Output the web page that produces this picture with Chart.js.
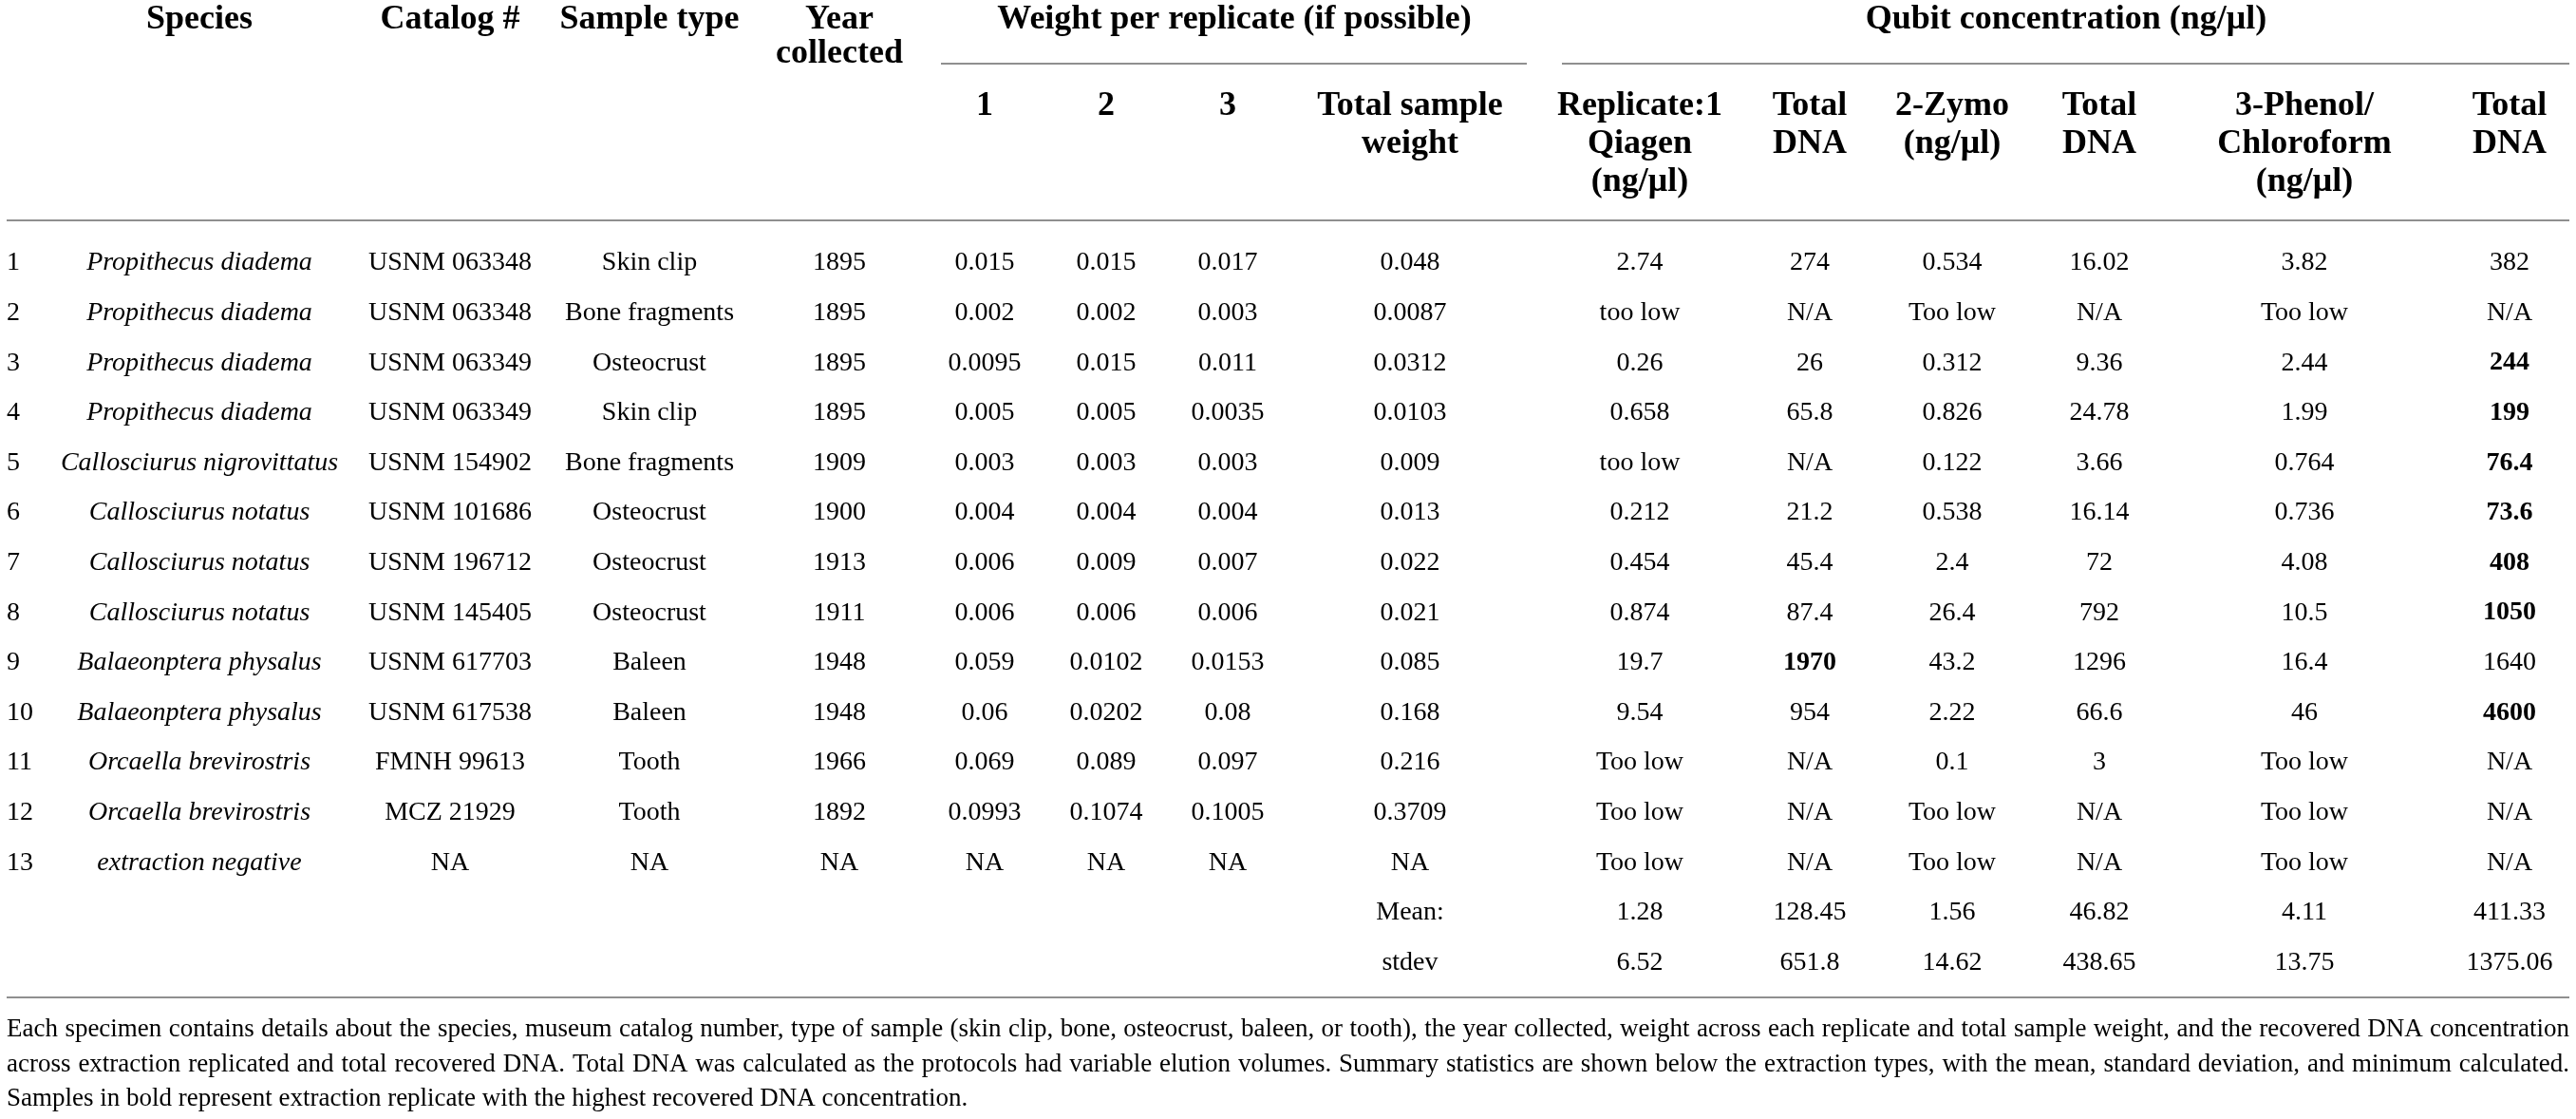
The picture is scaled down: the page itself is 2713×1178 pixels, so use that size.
<!DOCTYPE html>
<html>
<head>
<meta charset="utf-8">
<script src="https://cdn.jsdelivr.net/npm/chart.js@4.4.1/dist/chart.umd.min.js"></script>
<style>
html,body{margin:0;padding:0;background:#fff;overflow:hidden}
#wrap{width:2713px;height:1178px;position:relative}
</style>
</head>
<body>
<div id="wrap"><canvas id="c" width="2713" height="1178"></canvas></div>
<script>
// ---------------- DATA ----------------
const rowNumbers = ['1','2','3','4','5','6','7','8','9','10','11','12','13'];
const species = ['Propithecus diadema','Propithecus diadema','Propithecus diadema','Propithecus diadema','Callosciurus nigrovittatus','Callosciurus notatus','Callosciurus notatus','Callosciurus notatus','Balaeonptera physalus','Balaeonptera physalus','Orcaella brevirostris','Orcaella brevirostris','extraction negative'];
const catalogNumbers = ['USNM 063348','USNM 063348','USNM 063349','USNM 063349','USNM 154902','USNM 101686','USNM 196712','USNM 145405','USNM 617703','USNM 617538','FMNH 99613','MCZ 21929','NA'];
const sampleTypes = ['Skin clip','Bone fragments','Osteocrust','Skin clip','Bone fragments','Osteocrust','Osteocrust','Osteocrust','Baleen','Baleen','Tooth','Tooth','NA'];
const yearsCollected = ['1895','1895','1895','1895','1909','1900','1913','1911','1948','1948','1966','1892','NA'];
const weight1 = ['0.015','0.002','0.0095','0.005','0.003','0.004','0.006','0.006','0.059','0.06','0.069','0.0993','NA'];
const weight2 = ['0.015','0.002','0.015','0.005','0.003','0.004','0.009','0.006','0.0102','0.0202','0.089','0.1074','NA'];
const weight3 = ['0.017','0.003','0.011','0.0035','0.003','0.004','0.007','0.006','0.0153','0.08','0.097','0.1005','NA'];
const totalWeight = ['0.048','0.0087','0.0312','0.0103','0.009','0.013','0.022','0.021','0.085','0.168','0.216','0.3709','NA'];
const qiagen = ['2.74','too low','0.26','0.658','too low','0.212','0.454','0.874','19.7','9.54','Too low','Too low','Too low'];
const totalDNA1 = ['274','N/A','26','65.8','N/A','21.2','45.4','87.4','1970','954','N/A','N/A','N/A'];
const zymo = ['0.534','Too low','0.312','0.826','0.122','0.538','2.4','26.4','43.2','2.22','0.1','Too low','Too low'];
const totalDNA2 = ['16.02','N/A','9.36','24.78','3.66','16.14','72','792','1296','66.6','3','N/A','N/A'];
const phenol = ['3.82','Too low','2.44','1.99','0.764','0.736','4.08','10.5','16.4','46','Too low','Too low','Too low'];
const totalDNA3 = ['382','N/A','244','199','76.4','73.6','408','1050','1640','4600','N/A','N/A','N/A'];
// bold cells: [column key, row number]
const boldCells = [['dna3',3],['dna3',4],['dna3',5],['dna3',6],['dna3',7],['dna3',8],['dna1',9],['dna3',10]];
const summaryLabels = ['Mean:','stdev'];
const meanValues = ['1.28','128.45','1.56','46.82','4.11','411.33'];
const stdevValues = ['6.52','651.8','14.62','438.65','13.75','1375.06'];

const groupHeaders = ['Weight per replicate (if possible)','Qubit concentration (ng/μl)'];
const columnHeaders = [
  [], ['Species'], ['Catalog #'], ['Sample type'], ['Year','collected'],
  ['1'], ['2'], ['3'], ['Total sample','weight'],
  ['Replicate:1','Qiagen','(ng/μl)'], ['Total','DNA'], ['2-Zymo','(ng/μl)'], ['Total','DNA'],
  ['3-Phenol/','Chloroform','(ng/μl)'], ['Total','DNA']
];
const footnoteLines = [
  'Each specimen contains details about the species, museum catalog number, type of sample (skin clip, bone, osteocrust, baleen, or tooth), the year collected, weight across each replicate and total sample weight, and the recovered DNA concentration',
  'across extraction replicated and total recovered DNA. Total DNA was calculated as the protocols had variable elution volumes. Summary statistics are shown below the extraction types, with the mean, standard deviation, and minimum calculated.',
  'Samples in bold represent extraction replicate with the highest recovered DNA concentration.'
];

// ---------------- LAYOUT ----------------
const columnKeys = ['no','species','catalog','sample','year','w1','w2','w3','wt','qiagen','dna1','zymo','dna2','phenol','dna3'];
const columnValues = [rowNumbers,species,catalogNumbers,sampleTypes,yearsCollected,weight1,weight2,weight3,totalWeight,qiagen,totalDNA1,zymo,totalDNA2,phenol,totalDNA3];
const colCenters = [7,210,474,684,884,1037,1165,1293,1485,1727,1906,2056,2211,2427,2643];
const FONT = '"Liberation Serif", "Times New Roman", serif';
const W = 2713, H = 1178;
const ROW_Y0 = 277, ROW_STEP = 52.6;
const HEAD_TOP_Y = 21, HEAD_LINE = 36, SUB_Y = 112, SUB_LINE = 40;
const groupLayout = [[1300, 991, 1608],[2176, 1645, 2706]]; // center, rule from, rule to
const GROUP_RULE_Y = 67, HEAD_RULE_Y = 232, BOTTOM_RULE_Y = 1050, TABLE_LEFT = 7, TABLE_RIGHT = 2706;
const FOOT_Y0 = 1084, FOOT_STEP = 36.5;
const JUSTIFIED = [true, true, false];
const RULE_COLOR = '#8f8f8f';

// ---------------- DATASETS ----------------
const isBold = (key,row) => boldCells.some(b => b[0]===key && b[1]===row);
const datasets = columnKeys.map((key, ci) => ({
  label: key,
  data: columnValues[ci].map((v, i) => ({x: colCenters[ci], y: ROW_Y0 + i*ROW_STEP, text: v, bold: isBold(key, i+1)})),
  pointRadius: 0, showLine: false,
  cellStyle: key==='species' ? 'italic' : 'normal',
  align: key==='no' ? 'left' : 'center'
}));
const summaryCols = ['qiagen','dna1','zymo','dna2','phenol','dna3'];
[meanValues, stdevValues].forEach((vals, si) => {
  datasets.push({
    label: 'summary'+si,
    data: [{x: colCenters[columnKeys.indexOf('wt')], y: ROW_Y0 + (13+si)*ROW_STEP, text: summaryLabels[si], bold:false}]
      .concat(vals.map((v, k) => ({x: colCenters[columnKeys.indexOf(summaryCols[k])], y: ROW_Y0 + (13+si)*ROW_STEP, text: v, bold:false}))),
    pointRadius: 0, showLine:false, cellStyle:'normal', align:'center'
  });
});

const tablePlugin = {
  id: 'tableDraw',
  afterDatasetsDraw(chart) {
    const {ctx, scales:{x, y}} = chart;
    ctx.save();
    ctx.fillStyle = '#000';
    ctx.textBaseline = 'middle';
    // rules
    ctx.strokeStyle = RULE_COLOR; ctx.lineWidth = 2;
    const hline = (x0, x1, yy) => { ctx.beginPath(); ctx.moveTo(x.getPixelForValue(x0), y.getPixelForValue(yy)); ctx.lineTo(x.getPixelForValue(x1), y.getPixelForValue(yy)); ctx.stroke(); };
    groupLayout.forEach(g => hline(g[1], g[2], GROUP_RULE_Y));
    hline(TABLE_LEFT, TABLE_RIGHT, HEAD_RULE_Y);
    hline(TABLE_LEFT, TABLE_RIGHT, BOTTOM_RULE_Y);
    // headers
    ctx.font = 'bold 36px ' + FONT; ctx.textAlign = 'center';
    groupHeaders.forEach((t, i) => ctx.fillText(t, x.getPixelForValue(groupLayout[i][0]), y.getPixelForValue(HEAD_TOP_Y)));
    columnHeaders.forEach((lines, ci) => {
      const top = ci <= 4;
      lines.forEach((t, li) => {
        const yy = top ? HEAD_TOP_Y + li*HEAD_LINE : SUB_Y + li*SUB_LINE;
        ctx.fillText(t, x.getPixelForValue(colCenters[ci]), y.getPixelForValue(yy));
      });
    });
    // cells
    chart.data.datasets.forEach((ds, di) => {
      const meta = chart.getDatasetMeta(di);
      ctx.textAlign = ds.align;
      meta.data.forEach((pt, i) => {
        const d = ds.data[i];
        ctx.font = (ds.cellStyle==='italic' ? 'italic ' : '') + (d.bold ? 'bold ' : '') + '28px ' + FONT;
        ctx.fillText(d.text, pt.x, pt.y);
      });
    });
    // footnote (first two lines justified)
    ctx.font = '27px ' + FONT; ctx.textAlign = 'left';
    const left = x.getPixelForValue(TABLE_LEFT), right = x.getPixelForValue(TABLE_RIGHT);
    footnoteLines.forEach((t, i) => {
      const yy = y.getPixelForValue(FOOT_Y0 + i*FOOT_STEP);
      if (!JUSTIFIED[i]) { ctx.fillText(t, left, yy); return; }
      const words = t.split(' ');
      const widths = words.map(w => ctx.measureText(w).width);
      const total = widths.reduce((a,b)=>a+b,0);
      const gap = (right - left - total) / (words.length - 1);
      let cx = left;
      words.forEach((w, k) => { ctx.fillText(w, cx, yy); cx += widths[k] + gap; });
    });
    ctx.restore();
  }
};

new Chart(document.getElementById('c'), {
  type: 'scatter',
  data: { datasets },
  options: {
    responsive: false, animation: false, devicePixelRatio: 1,
    layout: { padding: 0 },
    plugins: { legend: {display:false}, tooltip: {enabled:false} },
    scales: {
      x: { type:'linear', min:0, max:W, display:false },
      y: { type:'linear', min:0, max:H, reverse:true, display:false }
    }
  },
  plugins: [tablePlugin]
});
</script>
</body>
</html>
